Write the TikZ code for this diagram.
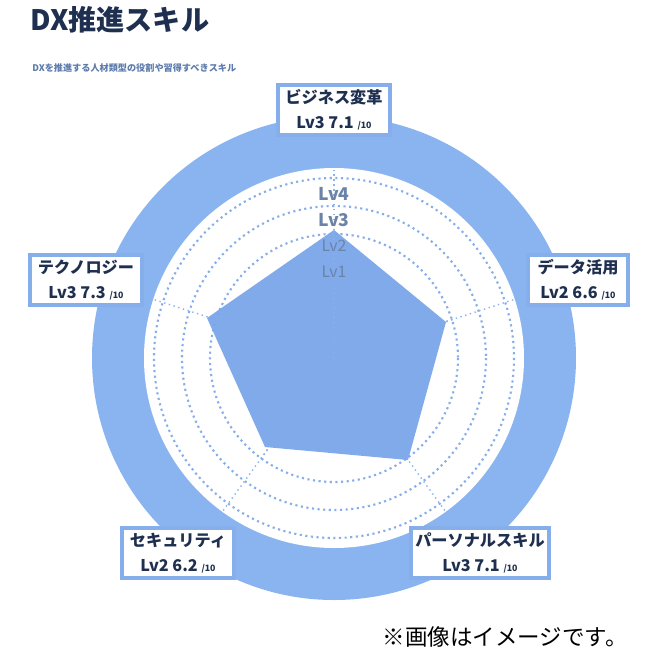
\documentclass[tikz,border=0pt]{standalone}
\usepackage{fontspec}
\setmainfont{Noto Sans CJK JP}
\usetikzlibrary{positioning}
\definecolor{skyblue}{HTML}{8AB4F0}
\definecolor{polyblue}{HTML}{7AA6E8}
\definecolor{ringblue}{HTML}{86AEEA}
\definecolor{navy}{HTML}{1E2F4F}
\definecolor{lvgray}{HTML}{6C83A8}
\begin{document}
\begin{tikzpicture}[x=0.01cm,y=-0.01cm,
  skillbox/.style={draw=ringblue,line width=1.2pt,fill=white,minimum width=#1,minimum height=0.5cm,align=center,inner sep=1pt,font=\bfseries\fontsize{4.6}{7}\selectfont,text=navy},
  ring/.style={draw=ringblue,densely dotted,line width=0.6pt},
  axis/.style={draw=skyblue,densely dotted,line width=0.4pt},
  lv/.style={font=\fontsize{4.5}{5}\selectfont,text=lvgray}]
\useasboundingbox (0,0) rectangle (652,660);
\coordinate (c) at (334,358);
% background disc and rings
\fill[skyblue] (c) circle (242);
\fill[white] (c) circle (190);
\foreach \r in {180,152,124} \draw[ring] (c) circle (\r);
% axes
\foreach \a in {90,162,234,306,18} \draw[axis] (c) -- ++(\a:-190);
% skill polygon
\coordinate (p1) at (334,230);
\coordinate (p2) at (446,322);
\coordinate (p3) at (408,460);
\coordinate (p4) at (265,447);
\coordinate (p5) at (207,318);
\fill[polyblue,opacity=0.95] (p1) -- (p2) -- (p3) -- (p4) -- (p5) -- cycle;
\foreach \a in {90,162,234,306,18} \draw[axis,draw=ringblue] (c) -- ++(\a:-125);
% level labels
\node[lv,font=\bfseries\fontsize{5}{5}\selectfont] (lv4) at (334,194) {Lv4};
\node[lv,font=\bfseries\fontsize{5}{5}\selectfont] (lv3) at (334,220) {Lv3};
\node[lv] (lv2) at (334,246) {Lv2};
\node[lv] (lv1) at (334,272) {Lv1};
% skill boxes
\node[skillbox=1.12cm] (biz) at (334,110) {ビジネス変革\\Lv3 7.1 {\fontsize{2.5}{3}\selectfont /10}};
\node[skillbox=1.0cm] (data) at (578,280) {データ活用\\Lv2 6.6 {\fontsize{2.5}{3}\selectfont /10}};
\node[skillbox=1.12cm] (tech) at (86,280) {テクノロジー\\Lv3 7.3 {\fontsize{2.5}{3}\selectfont /10}};
\node[skillbox=1.12cm] (sec) at (178,553) {セキュリティ\\Lv2 6.2 {\fontsize{2.5}{3}\selectfont /10}};
\node[skillbox=1.38cm] (pers) at (480,553) {パーソナルスキル\\Lv3 7.1 {\fontsize{2.5}{3}\selectfont /10}};
% titles
\node[anchor=west,font=\bfseries\fontsize{8}{9}\selectfont,text=navy] (title) at (18,20) {DX推進スキル};
\node[anchor=west,font=\bfseries\fontsize{2.6}{3}\selectfont,text=ringblue!60!navy] (sub) at (20,68) {DXを推進する人材類型の役割や習得すべきスキル};
\node[anchor=east,font=\fontsize{6.4}{7}\selectfont] (note) at (640,637) {※画像はイメージです。};
\end{tikzpicture}
\end{document}
